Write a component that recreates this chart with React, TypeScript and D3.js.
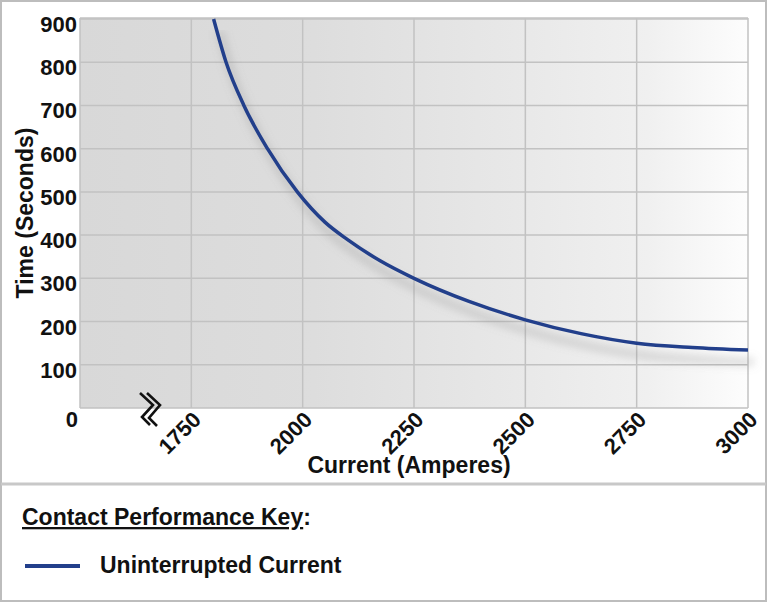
import React, { useEffect, useRef } from 'react';
import * as d3 from 'd3';

// Curve
const currentAmps = [1800, 1828, 1868, 1921, 1988, 2050, 2100, 2175, 2250, 2375, 2500, 2625, 2750, 2875, 3000];
const timeSeconds = [900, 800, 700, 600, 500, 430, 390, 340, 300, 246, 204, 172, 150, 140, 134];

const xTicks = [1750, 2000, 2250, 2500, 2750, 3000];
const yTicks = [100, 200, 300, 400, 500, 600, 700, 800, 900];

const seriesName = 'Uninterrupted Current';
const keyTitle = 'Contact Performance Key';

const W = 768;
const H = 603;
const FONT = '"Liberation Sans", Arial, sans-serif';
const LINE_COLOR = '#223f8b';

export default function App() {
  const svgRef = useRef<SVGSVGElement>(null);

  useEffect(() => {
    if (!svgRef.current) return;
    const svg = d3.select(svgRef.current);
    svg.selectAll('*').remove();

    const plot = { left: 80, right: 748, top: 18, bottom: 408 };

    const x = d3.scaleLinear().domain([1500, 3000]).range([plot.left, plot.right]);
    const y = d3.scaleLinear().domain([0, 900]).range([plot.bottom, plot.top + 1]);

    const defs = svg.append('defs');
    const grad = defs.append('linearGradient').attr('id', 'bg').attr('x1', 0).attr('x2', 1).attr('y1', 0).attr('y2', 0);
    [
      [0, '#d8d8d8'],
      [0.35, '#dddddd'],
      [0.65, '#e8e8e8'],
      [0.85, '#f0f0f0'],
      [1, '#fdfdfd'],
    ].forEach(([o, c]) => grad.append('stop').attr('offset', o as number).attr('stop-color', c as string));

    defs.append('filter').attr('id', 'blur').attr('x', '-20%').attr('y', '-20%').attr('width', '140%').attr('height', '140%')
      .append('feGaussianBlur').attr('stdDeviation', 4);

    defs.append('clipPath').attr('id', 'plotclip')
      .append('rect')
      .attr('x', plot.left).attr('y', plot.top)
      .attr('width', plot.right - plot.left).attr('height', plot.bottom - plot.top);
    defs.append('clipPath').attr('id', 'shadowclip')
      .append('rect')
      .attr('x', plot.left).attr('y', plot.top)
      .attr('width', W - plot.left - 3).attr('height', plot.bottom - plot.top);

    // page frame
    svg.append('rect').attr('width', W).attr('height', H).attr('fill', '#fff');
    svg.append('rect')
      .attr('x', 1).attr('y', 1).attr('width', W - 3).attr('height', H - 3)
      .attr('fill', 'none').attr('stroke', '#bdbdbd').attr('stroke-width', 2);
    svg.append('line')
      .attr('x1', 1).attr('x2', W - 2).attr('y1', 484).attr('y2', 484)
      .attr('stroke', '#c8c8c8').attr('stroke-width', 3);

    // plot background
    svg.append('rect')
      .attr('x', plot.left).attr('y', plot.top)
      .attr('width', plot.right - plot.left).attr('height', plot.bottom - plot.top)
      .attr('fill', 'url(#bg)');

    // grid
    const grid = svg.append('g').attr('stroke', '#c2c2c2').attr('stroke-width', 1.5);
    grid.selectAll('.gy').data([0, ...yTicks]).enter().append('line')
      .attr('x1', plot.left).attr('x2', plot.right)
      .attr('y1', d => y(d)).attr('y2', d => y(d));
    grid.selectAll('.gx').data([1500, ...xTicks]).enter().append('line')
      .attr('y1', plot.top).attr('y2', plot.bottom)
      .attr('x1', d => x(d)).attr('x2', d => x(d));
    svg.append('line')
      .attr('x1', plot.left).attr('x2', plot.right).attr('y1', plot.top).attr('y2', plot.top)
      .attr('stroke', '#c2c2c2').attr('stroke-width', 1.5);

    const line = d3.line<number>()
      .x((_, i) => x(currentAmps[i]))
      .y(d => y(d))
      .curve(d3.curveMonotoneX);

    // soft shadow under the curve
    svg.append('path')
      .attr('d', line(timeSeconds))
      .attr('transform', 'translate(6,12)')
      .attr('fill', 'none')
      .attr('stroke', '#8c8c8c')
      .attr('stroke-opacity', 0.32)
      .attr('stroke-width', 7)
      .attr('filter', 'url(#blur)')
      .attr('clip-path', 'url(#shadowclip)');

    svg.append('path')
      .attr('d', line(timeSeconds))
      .attr('fill', 'none')
      .attr('stroke', LINE_COLOR)
      .attr('stroke-width', 3.5)
      .attr('clip-path', 'url(#plotclip)');

    // y tick labels
    const yl = svg.append('g')
      .attr('font-family', FONT).attr('font-weight', 'bold').attr('font-size', 22)
      .attr('text-anchor', 'end').attr('fill', '#111');
    yl.selectAll('text').data(yTicks).enter().append('text')
      .attr('x', 77).attr('y', d => y(d) + 13)
      .text(d => d);
    yl.append('text').attr('x', 78).attr('y', y(0) + 19).text(0);

    // x tick labels, rotated
    svg.append('g')
      .attr('font-family', FONT).attr('font-weight', 'bold').attr('font-size', 22)
      .attr('text-anchor', 'end').attr('fill', '#111')
      .selectAll('text').data(xTicks).enter().append('text')
      .attr('transform', d => `translate(${x(d) + 11},${plot.bottom + 13}) rotate(-45)`)
      .text(d => d);

    // axis break mark
    const brk = svg.append('g').attr('fill', 'none').attr('stroke', '#111').attr('stroke-width', 2.6);
    brk.append('polyline').attr('points', '140,393 153,405 142,417 150,425');
    brk.append('polyline').attr('points', '147,393 160,405 149,418 157,426');

    // axis titles
    svg.append('text')
      .attr('transform', `translate(33,${(plot.top + plot.bottom) / 2}) rotate(-90)`)
      .attr('text-anchor', 'middle')
      .attr('font-family', FONT).attr('font-weight', 'bold').attr('font-size', 23).attr('fill', '#111')
      .text('Time (Seconds)');
    svg.append('text')
      .attr('x', 409).attr('y', 473)
      .attr('text-anchor', 'middle')
      .attr('font-family', FONT).attr('font-weight', 'bold').attr('font-size', 23).attr('fill', '#111')
      .text('Current (Amperes)');

    // key
    const key = svg.append('text')
      .attr('x', 22).attr('y', 525)
      .attr('font-family', FONT).attr('font-weight', 'bold').attr('font-size', 23).attr('fill', '#111');
    key.append('tspan').attr('text-decoration', 'underline').text(keyTitle);
    key.append('tspan').text(':');

    svg.append('line')
      .attr('x1', 25).attr('x2', 80).attr('y1', 566).attr('y2', 566)
      .attr('stroke', LINE_COLOR).attr('stroke-width', 4);
    svg.append('text')
      .attr('x', 100).attr('y', 573)
      .attr('font-family', FONT).attr('font-weight', 'bold').attr('font-size', 23).attr('fill', '#111')
      .text(seriesName);
  }, []);

  return (
    <svg
      ref={svgRef}
      width={W}
      height={H}
      style={{ position: 'absolute', left: 0, top: 0, display: 'block' }}
    />
  );
}
